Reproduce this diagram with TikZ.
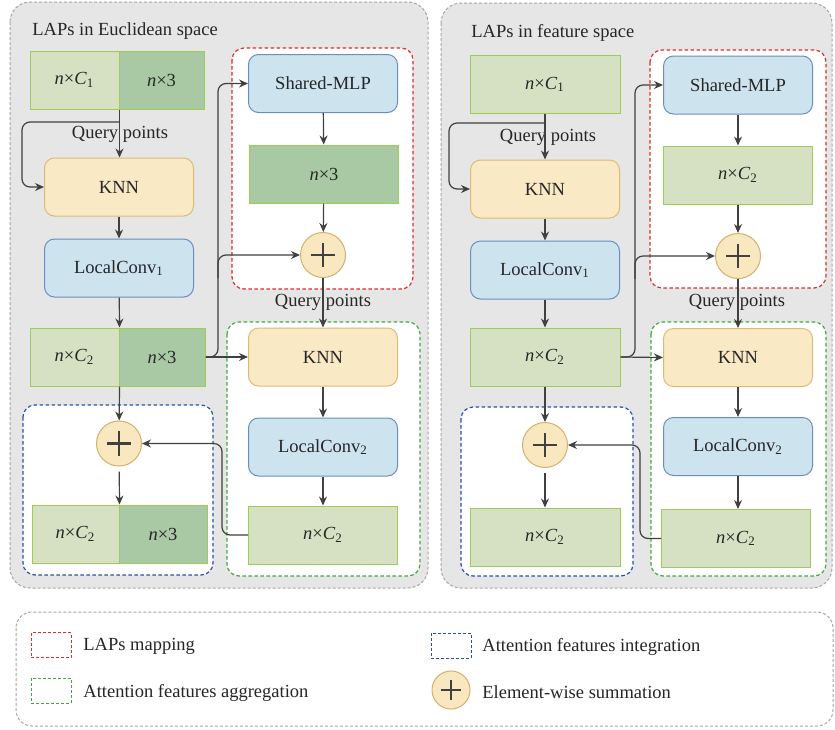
\documentclass[tikz,border=0pt]{standalone}
\usepackage{fontspec}
\setmainfont{Liberation Serif}
\usepackage{xcolor}
\usetikzlibrary{positioning, arrows.meta}

\definecolor{panelgray}{RGB}{230,230,230}
\definecolor{panelline}{RGB}{165,165,165}
\definecolor{lgreen}{RGB}{214,225,196}
\definecolor{dgreen}{RGB}{169,200,164}
\definecolor{gline}{RGB}{158,204,88}
\definecolor{knnfill}{RGB}{249,233,196}
\definecolor{knnline}{RGB}{222,186,120}
\definecolor{convfill}{RGB}{205,227,237}
\definecolor{convline}{RGB}{108,142,191}
\definecolor{sumfill}{RGB}{249,231,192}
\definecolor{sumline}{RGB}{212,176,112}
\definecolor{arrgray}{RGB}{64,64,64}
\definecolor{redbox}{RGB}{212,48,48}
\definecolor{greenbox}{RGB}{64,168,64}
\definecolor{bluebox}{RGB}{40,80,168}

\newcommand{\nc}[2]{\textit{n}×\textit{#1}\textsubscript{#2}}

\begin{document}
\begin{tikzpicture}[x=0.5pt, y=-0.5pt,
  every node/.style={font=\fontsize{9.25}{11}\selectfont, text=black!85},
  tens/.style={draw=gline, line width=0.5pt, minimum height=29pt, inner sep=0pt},
  op/.style={rounded corners=5pt, line width=0.5pt, minimum width=74.5pt, minimum height=29pt, inner sep=0pt},
  knn/.style={op, draw=knnline, fill=knnfill},
  conv/.style={op, draw=convline, fill=convfill},
  sumnode/.style={circle, draw=sumline, fill=sumfill, line width=0.5pt, minimum size=#1, inner sep=0pt,
    path picture={\draw[arrgray, line width=1.4pt]
      ([xshift=-0.27*#1]path picture bounding box.center) -- ([xshift=0.27*#1]path picture bounding box.center)
      ([yshift=-0.27*#1]path picture bounding box.center) -- ([yshift=0.27*#1]path picture bounding box.center);}},
  panel/.style={draw=panelline, fill=panelgray, dash pattern=on 1.5pt off 1pt, line width=0.5pt, rounded corners=10pt},
  grp/.style={fill=white, dash pattern=on 1.8pt off 1.2pt, line width=0.6pt, rounded corners=6pt},
  legsq/.style={draw, dash pattern=on 1.5pt off 1pt, line width=0.5pt, minimum width=20pt, minimum height=12.5pt, inner sep=0pt},
  arr/.style={-{Stealth[length=4.5pt, width=4pt]}, draw=arrgray, line width=0.6pt}]
  \useasboundingbox (0,0) rectangle (835,729);

  % panels
  \draw[panel] (10,2) rectangle (428,588);
  \draw[panel] (441,3) rectangle (832,588);
  \node[anchor=west, inner sep=0pt] (eTitle) at (32,31) {LAPs in Euclidean space};
  \node[anchor=west, inner sep=0pt] (fTitle) at (471,33) {LAPs in feature space};

  % group frames
  \draw[grp, draw=redbox] (232,48) rectangle (413,289);
  \draw[grp, draw=greenbox] (227,322) rectangle (420,576);
  \draw[grp, draw=bluebox] (23,405) rectangle (213,575);
  \draw[grp, draw=redbox] (650,50) rectangle (826,288);
  \draw[grp, draw=greenbox] (651,322) rectangle (826,576);
  \draw[grp, draw=bluebox] (461,407) rectangle (633,576);

  % Euclidean space: left column
  \node[tens, fill=lgreen, minimum width=44.5pt] (eIn1) at (74.5,80) {\nc{C}{1}};
  \node[tens, fill=dgreen, minimum width=42.5pt] (eIn2) at (161.5,80) {\textit{n}×3};
  \node[knn] (eKnn) at (119,187) {KNN};
  \node[conv] (eConv) at (119,268) {LocalConv\textsubscript{1}};
  \node[tens, fill=lgreen, minimum width=44.5pt] (eMid1) at (74.5,357) {\nc{C}{2}};
  \node[tens, fill=dgreen, minimum width=43pt] (eMid2) at (162,357) {\textit{n}×3};
  \node[sumnode=22.5pt] (eSum2) at (119,443.5) {};
  \node[tens, fill=lgreen, minimum width=43.5pt] (eOut1) at (75.5,534) {\nc{C}{2}};
  \node[tens, fill=dgreen, minimum width=44pt] (eOut2) at (163,534) {\textit{n}×3};
  \node (eQry) at (120,134) {Query points};
  % Euclidean space: right column
  \node[conv] (eMlp) at (323,83.5) {Shared-MLP};
  \node[tens, fill=dgreen, minimum width=74.5pt] (eOff) at (324,174) {\textit{n}×3};
  \node[sumnode=22.5pt] (eSum) at (323,255) {};
  \node (eQry2) at (323,302) {Query points};
  \node[knn] (eKnn2) at (323,357) {KNN};
  \node[conv] (eConv2) at (323,447) {LocalConv\textsubscript{2}};
  \node[tens, fill=lgreen, minimum width=74.5pt] (eAgg) at (323,535) {\nc{C}{2}};
  \coordinate (eSplit) at (119,122);
  \coordinate (eLoop) at (22,0);
  \coordinate (eBus) at (218,0);
  \coordinate (eRet) at (222,0);

  % Euclidean space: connectors
  \draw[arr] (eIn1.south east) -- (eIn1.south east |- eKnn.north);
  \draw[arr, rounded corners=4pt] (eSplit) -| (eLoop |- eKnn.west) -- (eKnn.west);
  \draw[arr] (eKnn) -- (eConv);
  \draw[arr] (eConv) -- (eMid1.north east);
  \draw[arr] (eMid1.south east) -- (eSum2);
  \draw[arr, shorten <=2.5pt] (eSum2) -- (eOut1.north east);
  \draw[arr] (eMid2.east) -- (eKnn2.west);
  \draw[arr, rounded corners=4pt] (eMid2.east) -| (eBus |- eMlp.west) -- (eMlp.west);
  \draw[arr, rounded corners=4pt] (eBus |- eSum.south) |- (eSum.west);
  \draw[arr] (eMlp) -- (eOff);
  \draw[arr] (eOff) -- (eSum);
  \draw[arr] (eSum) -- (eKnn2);
  \draw[arr] (eKnn2) -- (eConv2);
  \draw[arr] (eConv2) -- (eAgg);
  \draw[arr, rounded corners=4pt] (eAgg.west) -| (eRet |- eSum2.east) -- (eSum2.east);

  % feature space: left column
  \node[tens, fill=lgreen, minimum width=75pt] (fIn) at (545,84.5) {\nc{C}{1}};
  \node[knn] (fKnn) at (545,189) {KNN};
  \node[conv] (fConv) at (545,270) {LocalConv\textsubscript{1}};
  \node[tens, fill=lgreen, minimum width=75pt] (fMid) at (545,357) {\nc{C}{2}};
  \node[sumnode=22.5pt] (fSum2) at (545,445) {};
  \node[tens, fill=lgreen, minimum width=75pt] (fOut) at (545,537) {\nc{C}{2}};
  \node (fQry) at (548,137) {Query points};
  % feature space: right column
  \node[conv] (fMlp) at (738,85) {Shared-MLP};
  \node[tens, fill=lgreen, minimum width=74.5pt] (fOff) at (738,175) {\nc{C}{2}};
  \node[sumnode=22.5pt] (fSum) at (738,256) {};
  \node (fQry2) at (737,302) {Query points};
  \node[knn] (fKnn2) at (738,357.5) {KNN};
  \node[conv] (fConv2) at (738,446.5) {LocalConv\textsubscript{2}};
  \node[tens, fill=lgreen, minimum width=74.5pt] (fAgg) at (736,538.5) {\nc{C}{2}};
  \coordinate (fSplit) at (545,123);
  \coordinate (fLoop) at (449,0);
  \coordinate (fBus) at (635,0);
  \coordinate (fRet) at (640,0);

  % feature space: connectors
  \draw[arr] (fIn) -- (fKnn);
  \draw[arr, rounded corners=4pt] (fSplit) -| (fLoop |- fKnn.west) -- (fKnn.west);
  \draw[arr] (fKnn) -- (fConv);
  \draw[arr] (fConv) -- (fMid);
  \draw[arr] (fMid) -- (fSum2);
  \draw[arr, shorten <=2.5pt] (fSum2) -- (fOut);
  \draw[arr] (fMid.east) -- (fKnn2.west);
  \draw[arr, rounded corners=4pt] (fMid.east) -| (fBus |- fMlp.west) -- (fMlp.west);
  \draw[arr, rounded corners=4pt] (fBus |- fSum.south) |- (fSum.west);
  \draw[arr] (fMlp) -- (fOff);
  \draw[arr] (fOff) -- (fSum);
  \draw[arr] (fSum) -- (fKnn2);
  \draw[arr] (fKnn2) -- (fConv2);
  \draw[arr] (fConv2) -- (fConv2 |- fAgg.north);
  \draw[arr, rounded corners=4pt] (fAgg.west) -| (fRet |- fSum2.east) -- (fSum2.east);

  % legend
  \draw[panel, fill=white, rounded corners=8pt] (16,612) rectangle (833,726);
  \node[legsq, draw=redbox] (lgMap) at (51,645) {};
  \node[anchor=west, inner sep=0pt] (lgMapT) at (83,646) {LAPs mapping};
  \node[legsq, draw=greenbox] (lgAgg) at (51,690.5) {};
  \node[anchor=west, inner sep=0pt] (lgAggT) at (83,693) {Attention features aggregation};
  \node[legsq, draw=bluebox] (lgInt) at (451,645.5) {};
  \node[anchor=west, inner sep=0pt] (lgIntT) at (482,647) {Attention features integration};
  \node[sumnode=19pt] (lgSum) at (451,690) {};
  \node[anchor=west, inner sep=0pt] (lgSumT) at (482,692) {Element-wise summation};
\end{tikzpicture}
\end{document}
